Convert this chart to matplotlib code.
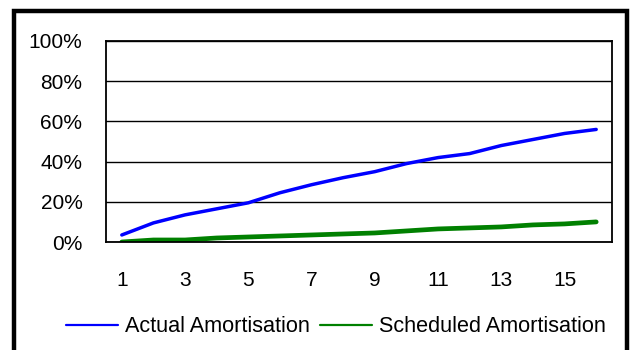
import matplotlib
matplotlib.use("Agg")
import matplotlib.pyplot as plt
from matplotlib.patches import Rectangle
from matplotlib.ticker import FuncFormatter

plt.rcParams['font.family'] = ['Liberation Sans', 'DejaVu Sans']

periods = list(range(1, 17))
actual = [3.5, 9.5, 13.5, 16.5, 19.5, 24.5, 28.5, 32, 35, 39, 42, 44, 48, 51, 54, 56]
scheduled = [0, 1, 1, 2, 2.5, 3, 3.5, 4, 4.5, 5.5, 6.5, 7, 7.5, 8.5, 9, 10]
tick_labels = [str(p) for p in periods[::2]]

W, H = 633, 350
fig = plt.figure(figsize=(W / 100, H / 100), dpi=100)

# outer frame (bottom edge runs past the figure)
fig.patches.append(Rectangle((14 / W, -0.05), (627 - 14) / W, 1 - 11 / H + 0.05,
                             transform=fig.transFigure, fill=False,
                             edgecolor='black', linewidth=3.2, zorder=0))

ax = fig.add_axes([106 / W, 1 - 242 / H, (612 - 106) / W, (242 - 41) / H])
ax.plot(periods, actual, color='#0000ff', linewidth=2.5, label='Actual Amortisation',
        solid_capstyle='round')
ax.plot(periods, scheduled, color='#008000', linewidth=3.4, label='Scheduled Amortisation',
        solid_capstyle='round')

ax.set_xlim(0.5, 16.5)
ax.set_ylim(0, 100)
ax.set_yticks(range(0, 101, 20))
ax.yaxis.set_major_formatter(FuncFormatter(lambda v, _: f"{v:.0f}%"))
ax.set_xticks(periods[::2])
ax.set_xticklabels(tick_labels)
ax.grid(axis='y', color='black', linewidth=1.0)
ax.set_axisbelow(True)
for s in ax.spines.values():
    s.set_linewidth(1.3)
    s.set_color('black')
ax.tick_params(axis='both', length=0, labelsize=15, colors='black')
ax.tick_params(axis='y', pad=17)
ax.tick_params(axis='x', pad=21)

leg = fig.legend(loc='center', bbox_to_anchor=(336 / W, 1 - 327 / H), ncol=2,
                 frameon=False, fontsize=15.6, handlelength=2.4, handletextpad=0.32,
                 columnspacing=0.5, borderpad=0)
for line in leg.get_lines():
    line.set_linewidth(1.6)

fig.savefig('out.png', dpi=100)
